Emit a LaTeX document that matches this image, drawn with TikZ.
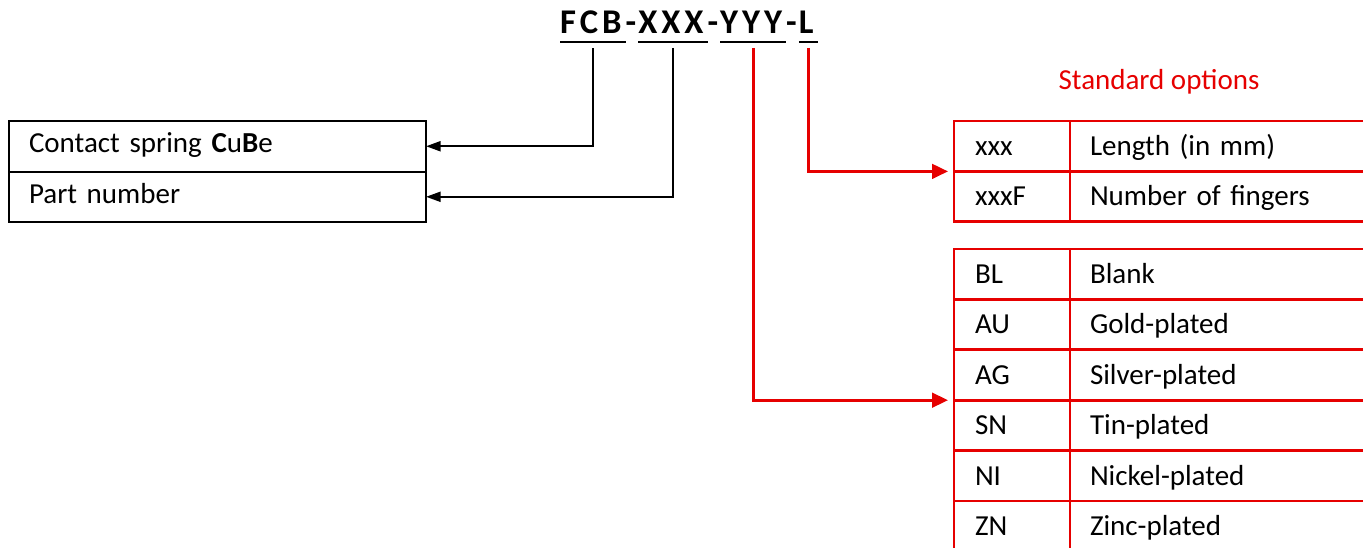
\documentclass[tikz,border=0pt]{standalone}
\usepackage{fontspec}
\setmainfont{Carlito}
\usetikzlibrary{arrows.meta,positioning}
\definecolor{optred}{RGB}{230,0,0}
\newcommand\lsp{\kern3pt}
\begin{document}
\begin{tikzpicture}[x=0.75pt, y=-0.75pt, line join=miter, font=\fontsize{21.75}{26}\selectfont,
		seg/.style={inner sep=0pt, outer sep=0pt, anchor=base west, font=\fontsize{26}{31}\selectfont\bfseries},
		cellbase/.style={anchor=north west, outer sep=0pt, inner ysep=0pt, text height=15.5pt, text depth=5.5pt, align=left},
		infobox/.style={cellbase, draw, line width=1.5pt, minimum height=37.9pt, text width=282.75pt, inner xsep=15pt},
		codecell/.style={cellbase, draw=optred, line width=2pt, minimum height=37.8pt, text width=55.5pt, inner xsep=15.75pt, text height=17pt, text depth=3pt},
		desccell/.style={codecell, anchor=west, text width=232.5pt, inner xsep=15pt},
		blackarrow/.style={line width=1.6pt, -{Triangle[length=11pt,width=7.5pt]}},
		redarrow/.style={optred, line width=2pt, -{Triangle[length=12pt,width=11pt]}, shorten >=4.5pt}]
	\useasboundingbox (0,0) rectangle (1363,548);
	% order code
	\node [seg] (segFCB) at (560,34) {F\lsp C\lsp B\lsp};
	\node [seg] (dash1) at (segFCB.base east) {-\kern1.5pt};
	\node [seg] (segXXX) at (dash1.base east) {X\lsp X\lsp X\lsp};
	\node [seg] (dash2) at (segXXX.base east) {-\kern1.5pt};
	\node [seg] (segYYY) at (dash2.base east) {Y\lsp Y\lsp Y\lsp};
	\node [seg] (dash3) at (segYYY.base east) {-\kern1.5pt};
	\node [seg] (segL) at (dash3.base east) {L\lsp};
	\foreach \s in {segFCB,segXXX,segYYY,segL}{
		\draw [line width=1.6pt] ([yshift=-6pt]\s.south west)--([yshift=-6pt]\s.south east);
	}
	% left boxes
	\node [infobox] (cube) at (9,121) {Contact spring \textbf{C}u\textbf{B}e};
	\node [infobox, below=0pt of cube] (partno) {Part number};
	% standard options
	\node [optred, anchor=base] (stdopt) at (1159,90) {Standard options};
	\node [codecell] (len1) at (954,121) {xxx};
	\node [desccell] (lendesc1) at (len1.east) {Length (in mm)};
	\node [codecell, below=0pt of len1] (len2) {xxxF};
	\node [desccell] (lendesc2) at (len2.east) {Number of fingers};
	\foreach \code/\desc [count=\i] in {BL/Blank, AU/Gold-plated, AG/Silver-plated, SN/Tin-plated, NI/Nickel-plated, ZN/Zinc-plated}{
		\node [codecell] (plate\i) at (954,{249+(\i-1)*50.4}) {\code};
		\node [desccell] (platedesc\i) at (plate\i.east) {\desc};
	}
	% connectors
	\draw [blackarrow] ([yshift=-10.5pt]segFCB.south) |- (cube.east);
	\draw [blackarrow] ([yshift=-10.5pt]segXXX.south) |- (partno.east);
	\draw [redarrow] ([yshift=-10.5pt]segL.south) |- (len1.south west);
	\draw [redarrow] ([yshift=-10.5pt]segYYY.south) |- (plate3.south west);
\end{tikzpicture}
\end{document}
